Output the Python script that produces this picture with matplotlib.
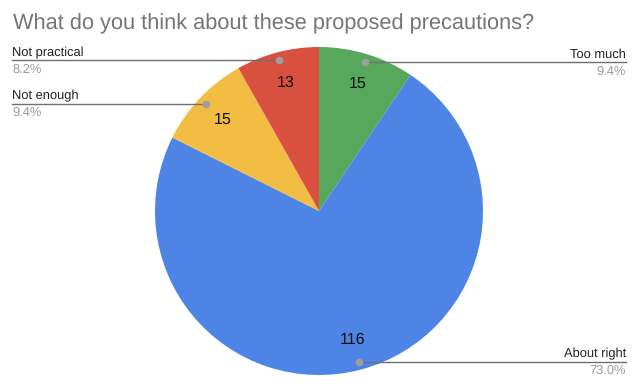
import numpy as np
import matplotlib.pyplot as plt

plt.rcParams['font.family'] = ['Liberation Sans', 'DejaVu Sans']
plt.rcParams['text.hinting'] = 'no_hinting'

# data, in the order drawn clockwise from 12 o'clock
labels = ['Too much', 'About right', 'Not enough', 'Not practical']
counts = [15, 116, 15, 13]
colors = ['#57a85d', '#4f84e7', '#f2bd42', '#d9503f']

W, H = 639, 386
fig = plt.figure(figsize=(W / 100, H / 100), dpi=100)
ax = fig.add_axes([0, 0, 1, 1])

cx, cy, R = 319, H - 211, 164
wedges, _ = ax.pie(counts, colors=colors, startangle=90, counterclock=False,
                   center=(cx, cy), radius=R,
                   wedgeprops=dict(linewidth=0))

total = sum(counts)
for w, lab, n in zip(wedges, labels, counts):
    mid = np.deg2rad((w.theta1 + w.theta2) / 2)
    # count inside the slice
    ax.text(cx + 0.81 * R * np.cos(mid), cy + 0.81 * R * np.sin(mid), str(n),
            ha='center', va='center', fontsize=11.5, color='#111111')
    # leader line with dot
    dx = cx + 0.95 * R * np.cos(mid)
    dy = cy + 0.95 * R * np.sin(mid)
    pct = '%.1f%%' % (100 * n / total)
    if np.cos(mid) > 0:
        x0, x1, tx, ha = dx, 626, 626, 'right'
    else:
        x0, x1, tx, ha = 12, dx, 12, 'left'
    ax.plot([x0, x1], [dy, dy], color='#707070', lw=1, zorder=3)
    ax.text(tx, dy + 4, lab, ha=ha, va='baseline', fontsize=9.3, color='#222222')
    ax.text(tx, dy - 3, pct, ha=ha, va='top', fontsize=9.3, color='#9a9a9a')
    ax.plot(dx, dy, 'o', ms=4.5, color='#9e9e9e', zorder=4)

ax.text(13, H - 29, 'What do you think about these proposed precautions?',
        ha='left', va='baseline', fontsize=15.7, color='#757575')

ax.set_xlim(0, W)
ax.set_ylim(0, H)
ax.set_aspect('auto')
ax.axis('off')

fig.savefig('out.png', dpi=100)
